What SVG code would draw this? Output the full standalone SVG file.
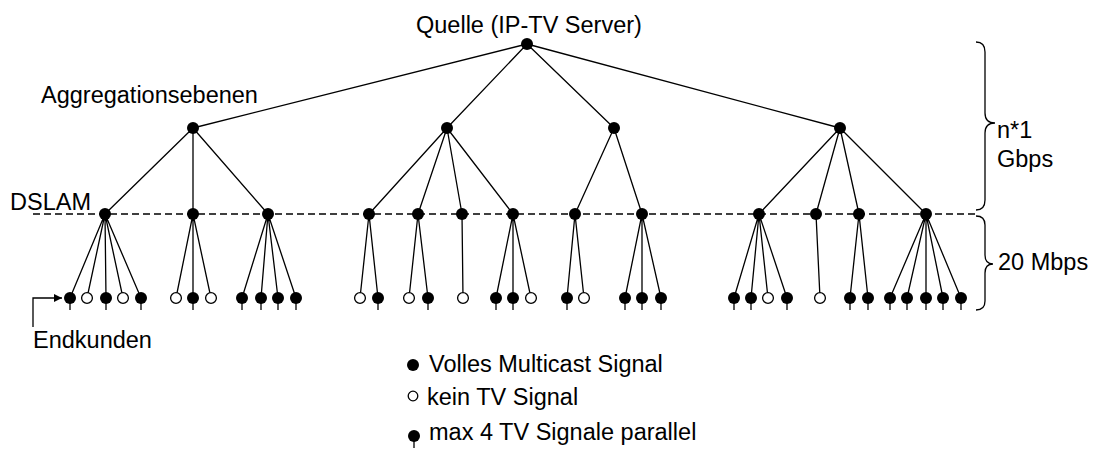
<svg xmlns="http://www.w3.org/2000/svg" width="1099" height="452" viewBox="0 0 1099 452">
<style>
text{font-family:"Liberation Sans",Arial,sans-serif;font-size:23.5px;fill:#000}
.e{stroke:#000;stroke-width:1.3;fill:none}
.f{fill:#000}
.o{fill:#fff;stroke:#000;stroke-width:1.3}
.t{stroke:#000;stroke-width:1.3}
</style>
<defs>
<marker id="ah" viewBox="0 0 10 10" refX="10" refY="5" markerWidth="8" markerHeight="8" markerUnits="userSpaceOnUse" orient="auto"><path d="M0,0L10,5L0,10z" fill="#000"/></marker>
<g id="lf"><line class="t" x1="0" y1="0" x2="0" y2="12"/><circle class="f" r="6"/></g>
<circle id="lo" class="o" r="5.4"/>
</defs>
<rect width="1099" height="452" fill="#fff"/>
<g id="connectors">
<line class="e" x1="33" y1="214" x2="977" y2="214" stroke-dasharray="7 4"/>
<path class="e" d="M527,44L193,128M527,44L447,128M527,44L614,128M527,44L840,128"/>
<path class="e" d="M193,128L105,214M193,128L193,214M193,128L268,214M447,128L369,214M447,128L418,214M447,128L462,214M447,128L513,214M614,128L575,214M614,128L642,214M840,128L759,214M840,128L816,214M840,128L859,214M840,128L926,214"/>
<path class="e" d="M105,214L70,298M105,214L87,298M105,214L106,298M105,214L123,298M105,214L141,298M193,214L176,298M193,214L193,298M193,214L211,298M268,214L242,298M268,214L261,298M268,214L278,298M268,214L296,298M369,214L360,298M369,214L378,298M418,214L409,298M418,214L428,298M462,214L463,298M513,214L496,298M513,214L513,298M513,214L531,298M575,214L567,298M575,214L584,298M642,214L625,298M642,214L642,298M642,214L661,298M759,214L734,298M759,214L751,298M759,214L768,298M759,214L787,298M816,214L820,298M859,214L850,298M859,214L868,298M926,214L890,298M926,214L907,298M926,214L926,298M926,214L943,298M926,214L961,298"/>
<path class="e" d="M33,327L33,298L62,298" marker-end="url(#ah)"/>
<path class="e" d="M976,42Q985,42 985,52L985,113Q985,123 995,123Q985,123 985,133L985,200Q985,210 976,210"/>
<path class="e" d="M976,216Q985,216 985,225L985,255Q985,264 993,264Q985,264 985,273L985,301Q985,310 976,310"/>
</g>
<g id="root"><circle class="f" cx="527" cy="44" r="6"/><text x="416" y="33">Quelle (IP-TV Server)</text></g>
<g id="agg-labels"><text x="41" y="103">Aggregationsebenen</text></g>
<g id="agg1"><circle class="f" cx="193" cy="128" r="6"/></g>
<g id="agg2"><circle class="f" cx="447" cy="128" r="6"/></g>
<g id="agg3"><circle class="f" cx="614" cy="128" r="6"/></g>
<g id="agg4"><circle class="f" cx="840" cy="128" r="6"/></g>
<g id="dslam-label"><text x="10" y="210">DSLAM</text></g>
<g id="dslams">
<circle class="f" cx="105" cy="214" r="6"/><circle class="f" cx="193" cy="214" r="6"/><circle class="f" cx="268" cy="214" r="6"/>
<circle class="f" cx="369" cy="214" r="6"/><circle class="f" cx="418" cy="214" r="6"/><circle class="f" cx="462" cy="214" r="6"/><circle class="f" cx="513" cy="214" r="6"/>
<circle class="f" cx="575" cy="214" r="6"/><circle class="f" cx="642" cy="214" r="6"/>
<circle class="f" cx="759" cy="214" r="6"/><circle class="f" cx="816" cy="214" r="6"/><circle class="f" cx="859" cy="214" r="6"/><circle class="f" cx="926" cy="214" r="6"/>
</g>
<g id="leaves">
<use href="#lf" x="70" y="298"/><use href="#lo" x="87" y="298"/><use href="#lf" x="106" y="298"/><use href="#lo" x="123" y="298"/><use href="#lf" x="141" y="298"/>
<use href="#lo" x="176" y="298"/><use href="#lf" x="193" y="298"/><use href="#lo" x="211" y="298"/>
<use href="#lf" x="242" y="298"/><use href="#lf" x="261" y="298"/><use href="#lf" x="278" y="298"/><use href="#lf" x="296" y="298"/>
<use href="#lo" x="360" y="298"/><use href="#lf" x="378" y="298"/>
<use href="#lo" x="409" y="298"/><use href="#lf" x="428" y="298"/>
<use href="#lo" x="463" y="298"/>
<use href="#lf" x="496" y="298"/><use href="#lf" x="513" y="298"/><use href="#lo" x="531" y="298"/>
<use href="#lf" x="567" y="298"/><use href="#lo" x="584" y="298"/>
<use href="#lf" x="625" y="298"/><use href="#lf" x="642" y="298"/><use href="#lf" x="661" y="298"/>
<use href="#lf" x="734" y="298"/><use href="#lf" x="751" y="298"/><use href="#lo" x="768" y="298"/><use href="#lf" x="787" y="298"/>
<use href="#lo" x="820" y="298"/>
<use href="#lf" x="850" y="298"/><use href="#lf" x="868" y="298"/>
<use href="#lf" x="890" y="298"/><use href="#lf" x="907" y="298"/><use href="#lf" x="926" y="298"/><use href="#lf" x="943" y="298"/><use href="#lf" x="961" y="298"/>
</g>
<g id="endkunden"><text x="33" y="348">Endkunden</text></g>
<g id="bandwidth">
<text x="997" y="138">n*1</text><text x="997" y="167">Gbps</text>
<text x="998" y="270">20 Mbps</text>
</g>
<g id="legend">
<circle class="f" cx="413" cy="365" r="6"/><text x="429" y="372">Volles Multicast Signal</text>
<circle class="o" cx="413" cy="396" r="4.8"/><text x="427" y="405">kein TV Signal</text>
<use href="#lf" x="414" y="436"/><text x="429" y="440">max 4 TV Signale parallel</text>
</g>
</svg>
